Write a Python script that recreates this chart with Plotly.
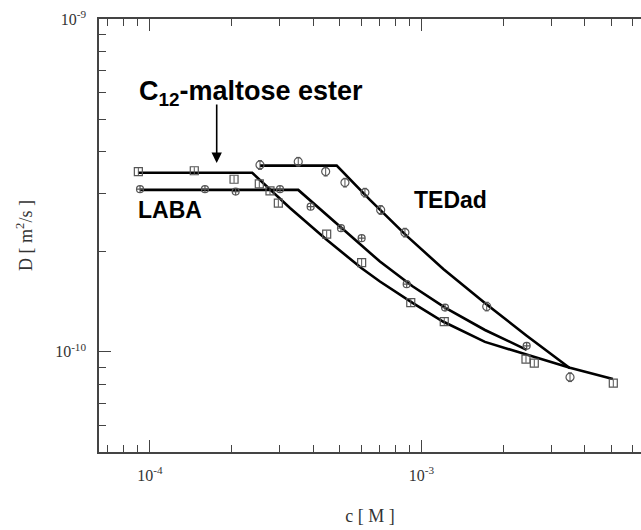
import math
import plotly.graph_objects as go

# ---- data ----
# C12-maltose ester (squares)
c12_c = [9.06e-5, 1.456e-4, 2.04e-4, 2.527e-4, 2.767e-4, 2.97e-4, 4.475e-4, 6.02e-4,
         9.13e-4, 1.213e-3, 2.426e-3, 2.603e-3, 5.087e-3]
c12_D = [3.48e-10, 3.50e-10, 3.30e-10, 3.195e-10, 3.045e-10, 2.796e-10, 2.257e-10, 1.854e-10,
         1.406e-10, 1.233e-10, 9.51e-11, 9.25e-11, 8.05e-11]
c12_fit_c = [9.06e-5, 2.38e-4, 3.279e-4, 4.475e-4, 6.02e-4, 7.03e-4, 9.3e-4, 1.2e-3, 1.713e-3,
             2.44e-3, 3.52e-3, 5.07e-3]
c12_fit_D = [3.45e-10, 3.45e-10, 2.706e-10, 2.17e-10, 1.783e-10, 1.626e-10, 1.40e-10, 1.233e-10,
             1.071e-10, 9.79e-11, 8.95e-11, 8.28e-11]

# LABA (circles)
laba_c = [9.19e-5, 1.594e-4, 2.068e-4, 3.012e-4, 3.906e-4, 5.053e-4, 6.02e-4, 8.82e-4,
          1.221e-3, 2.44e-3]
laba_D = [3.08e-10, 3.08e-10, 3.03e-10, 3.08e-10, 2.73e-10, 2.352e-10, 2.195e-10, 1.597e-10,
          1.358e-10, 1.042e-10]
laba_fit_c = [9.19e-5, 3.516e-4, 5.01e-4, 7.03e-4, 9.27e-4, 1.221e-3, 1.713e-3, 2.44e-3]
laba_fit_D = [3.065e-10, 3.065e-10, 2.378e-10, 1.867e-10, 1.574e-10, 1.358e-10, 1.163e-10, 1.014e-10]

# TEDad (circles with bars)
ted_c = [2.542e-4, 3.516e-4, 4.437e-4, 5.225e-4, 6.19e-4, 7.074e-4, 8.69e-4, 1.739e-3, 3.524e-3]
ted_D = [3.643e-10, 3.727e-10, 3.48e-10, 3.225e-10, 3.009e-10, 2.669e-10, 2.282e-10, 1.368e-10, 8.39e-11]
ted_fit_c = [2.542e-4, 4.872e-4, 6.46e-4, 8.82e-4, 1.203e-3, 1.739e-3, 2.44e-3, 3.524e-3]
ted_fit_D = [3.626e-10, 3.626e-10, 2.86e-10, 2.23e-10, 1.774e-10, 1.388e-10, 1.118e-10, 8.93e-11]

x_major = [1e-4, 1e-3]
x_major_text = ["10<sup>-4</sup>", "10<sup>-3</sup>"]
y_major = [1e-10, 1e-9]
y_major_text = ["10<sup>-10</sup>", "10<sup>-9</sup>"]

x_minor = [m * 10.0 ** e for e in (-5, -4, -3) for m in range(2, 10)]
y_minor = [m * 10.0 ** e for e in (-11, -10) for m in range(2, 10)]

MK = "#555555"
LINE = "black"
AX = "#444444"
SERIF = "Liberation Serif, Times New Roman, serif"
SANS = "Liberation Sans, Arial, sans-serif"

fig = go.Figure()

for fc, fD in [(c12_fit_c, c12_fit_D), (laba_fit_c, laba_fit_D), (ted_fit_c, ted_fit_D)]:
    fig.add_trace(go.Scatter(x=fc, y=fD, mode="lines",
                             line=dict(color=LINE, width=2.6),
                             showlegend=False, hoverinfo="skip"))

fig.add_trace(go.Scatter(x=c12_c, y=c12_D, mode="markers", showlegend=False,
                         marker=dict(symbol="square-open", size=8, color=MK, line=dict(width=1.2)),
                         error_y=dict(type="percent", value=2.5, thickness=1, width=0, color=MK)))
fig.add_trace(go.Scatter(x=laba_c, y=laba_D, mode="markers", showlegend=False,
                         marker=dict(symbol="circle-cross-open", size=7, color=MK, line=dict(width=1.2))))
fig.add_trace(go.Scatter(x=ted_c, y=ted_D, mode="markers", showlegend=False,
                         marker=dict(symbol="circle-open", size=8, color=MK, line=dict(width=1.2)),
                         error_y=dict(type="percent", value=3, thickness=1, width=2, color=MK)))

L, R, T, B = 99, 641, 19, 452.5
W, H = 641, 530
pw, ph = R - L, B - T


def px(x):
    return (x - L) / pw


def py(y):
    return (B - y) / ph


axis_common = dict(type="log", showgrid=False, zeroline=False, showline=True,
                   linecolor=AX, linewidth=1.5, ticks="inside",
                   ticklen=12, tickwidth=1.3, tickcolor=AX,
                   tickfont=dict(family=SERIF, size=16, color="#333333"))

fig.update_layout(
    width=W, height=H,
    margin=dict(l=L, r=W - R, t=T, b=H - B),
    paper_bgcolor="white", plot_bgcolor="white",
    xaxis=dict(axis_common, range=[-4.1878, -2.1915], mirror="ticks",
               tickvals=x_major, ticktext=x_major_text, ticklabelstandoff=8,
               minor=dict(ticks="inside", ticklen=7, tickwidth=1.2, tickcolor=AX,
                          tickvals=x_minor, showgrid=False),
               title=dict(text="c [ M ]", font=dict(family=SERIF, size=18, color="#333333"),
                          standoff=26)),
    yaxis=dict(axis_common, range=[-10.30103, -9.0], mirror=False,
               tickvals=y_major, ticktext=y_major_text, ticklabelstandoff=8,
               minor=dict(ticks="inside", ticklen=7, tickwidth=1.2, tickcolor=AX,
                          tickvals=y_minor, showgrid=False),
               title=dict(text="D [ m<sup>2</sup>/s ]", font=dict(family=SERIF, size=18, color="#333333"),
                          standoff=18)),
    font=dict(family=SANS),
)

# right-hand frame tick (the right frame itself lies just outside the picture)
fig.add_shape(type="line", xref="paper", yref="y", x0=px(636), x1=1.0,
              y0=math.log10(y_major[0]), y1=math.log10(y_major[0]),
              line=dict(color=AX, width=1.3))

fig.add_annotation(xref="paper", yref="paper", x=px(137), y=py(93), xanchor="left", yanchor="middle",
                   text="C<sub>12</sub>-maltose ester", showarrow=False,
                   font=dict(family=SANS, size=27, color="black", weight="bold"))
fig.add_annotation(xref="paper", yref="paper", x=px(136), y=py(210), xanchor="left", yanchor="middle",
                   text="LABA", showarrow=False,
                   font=dict(family=SANS, size=23, color="black", weight="bold"))
fig.add_annotation(xref="paper", yref="paper", x=px(412), y=py(200), xanchor="left", yanchor="middle",
                   text="TEDad", showarrow=False,
                   font=dict(family=SANS, size=23, color="black", weight="bold"))
fig.add_annotation(xref="x", yref="y", x=-3.7543, y=-9.4324, ax=0, ay=-60, text="",
                   showarrow=True, arrowhead=2, arrowsize=1.3, arrowwidth=1.6, arrowcolor="black")

fig.write_html("out.html")
